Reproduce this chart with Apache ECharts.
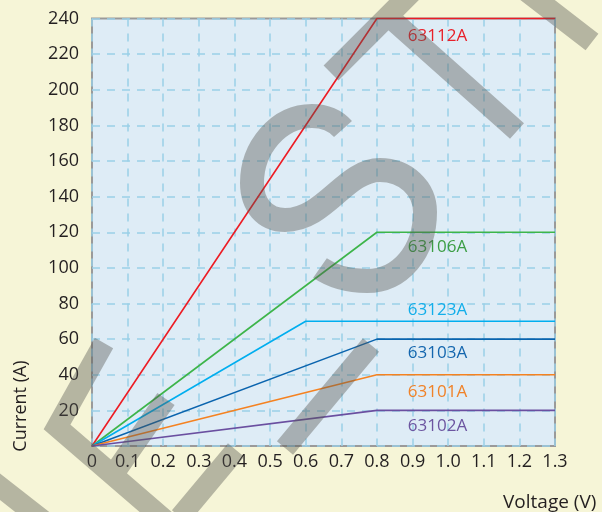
<!DOCTYPE html>
<html><head><meta charset="utf-8">
<script src="https://cdn.jsdelivr.net/npm/echarts@6/dist/echarts.min.js"></script>
<style>html,body{margin:0;padding:0;background:#F6F5D7;}#c{width:602px;height:512px;}</style>
</head><body><div id="c"></div>
<script>
// ---- data ----
const models = ['63112A', '63106A', '63123A', '63103A', '63101A', '63102A'];
const kneeVoltage = [0.8, 0.8, 0.6, 0.8, 0.8, 0.8];      // V where the line flattens
const ratedCurrent = [240, 120, 70, 60, 40, 20];          // A plateau
const maxVoltage = 1.3;
const labelVoltage = 0.97;                                 // where the model names sit
const xTickLabels = ['0', '0.1', '0.2', '0.3', '0.4', '0.5', '0.6', '0.7', '0.8', '0.9', '1.0', '1.1', '1.2', '1.3'];
const yTickLabels = ['', '20', '40', '60', '80', '100', '120', '140', '160', '180', '200', '220', '240'];

// ---- styles ----
const lineColors = ['#ED1C24', '#3DB54A', '#00AEEF', '#0A64AE', '#F58220', '#6A4FA0'];
const labelColors = ['#E8202A', '#3C9E44', '#12AEEA', '#1466AE', '#F08228', '#6C55A0'];
const labelOffsetY = [18, 15, -11.5, 14.5, 17.5, 16];
const FONT = 'Open Sans';
const wm = 'rgba(85,85,80,0.40)';

const series = models.map((m, i) => ({
  name: m,
  type: 'line',
  showSymbol: false,
  clip: false,
  data: [[0, 0], [kneeVoltage[i], ratedCurrent[i]], [maxVoltage, ratedCurrent[i]]],
  lineStyle: { color: lineColors[i], width: 1.6 },
  itemStyle: { color: lineColors[i] },
  markPoint: {
    symbol: 'circle', symbolSize: 0, silent: true,
    itemStyle: { color: 'rgba(0,0,0,0)' },
    label: {
      show: true, position: 'inside', formatter: m, offset: [0, labelOffsetY[i]],
      color: labelColors[i], fontSize: 17, fontFamily: FONT
    },
    data: [{ coord: [labelVoltage, ratedCurrent[i]] }]
  }
}));

// watermark (decoration, pixel space)
const wmBars = 'M104 343 L57 427 L165 520 ' +
  'M166 399 L113 475 ' +
  'M-15 475 L45 522 ' +
  'M331 73 L420 -16 ' +
  'M388 16 L517 131 ' +
  'M522 -12 L592 42 ' +
  'M371 345 L285 448 ' +
  'M236 450 L180 517';
const wmS = 'M343 129 C335 120 325 116 312 116 C278 116 252 148 252 183 ' +
  'C252 205 265 220 285 220 C325 220 345 170 380 170 ' +
  'C405 170 425 188 425 212 C425 252 400 281 367 281 C348 281 333 277 320 268';

series.push({
  type: 'custom', coordinateSystem: 'none', silent: true, z: 100,
  data: [0],
  renderItem: () => ({
    type: 'group',
    children: [
      { type: 'path', shape: { pathData: wmBars },
        style: { fill: 'none', stroke: wm, lineWidth: 21, lineCap: 'butt', lineJoin: 'miter' } },
      { type: 'path', shape: { pathData: wmS },
        style: { fill: 'none', stroke: wm, lineWidth: 24, lineCap: 'butt', lineJoin: 'round' } }
    ]
  })
});

const chart = echarts.init(document.getElementById('c'), null, { renderer: 'canvas' });
chart.setOption({
  animation: false,
  backgroundColor: '#F6F5D7',
  grid: {
    show: true, left: 92, right: 47, top: 18.5, bottom: 66,
    backgroundColor: '#DEECF6', borderColor: '#9A9A9A', borderWidth: 2
  },
  xAxis: {
    type: 'value', min: 0, max: maxVoltage, interval: 0.1,
    axisLine: { show: false }, axisTick: { show: false },
    axisLabel: {
      fontSize: 18, fontFamily: FONT, color: '#231F20', margin: 7,
      formatter: v => xTickLabels[Math.round(v * 10)]
    },
    splitLine: { show: true, lineStyle: { color: '#9ACFE7', width: 1.5, type: [8, 7] } }
  },
  yAxis: {
    type: 'value', min: 0, max: 240, interval: 20,
    axisLine: { show: false }, axisTick: { show: false },
    axisLabel: {
      fontSize: 18, fontFamily: FONT, color: '#231F20', margin: 13,
      formatter: v => yTickLabels[Math.round(v / 20)]
    },
    splitLine: { show: true, lineStyle: { color: '#9ACFE7', width: 1.5, type: [8, 7] } }
  },
  series: series,
  graphic: [
    { type: 'text', x: 21, y: 406, rotation: Math.PI / 2, silent: true,
      style: { text: 'Current (A)', fontSize: 18, fontFamily: FONT, fill: '#231F20', align: 'center', verticalAlign: 'middle' } },
    { type: 'text', x: 503, y: 503, silent: true,
      style: { text: 'Voltage (V)', fontSize: 19, fontFamily: FONT, fill: '#231F20', align: 'left', verticalAlign: 'middle' } }
  ]
});
</script></body></html>
